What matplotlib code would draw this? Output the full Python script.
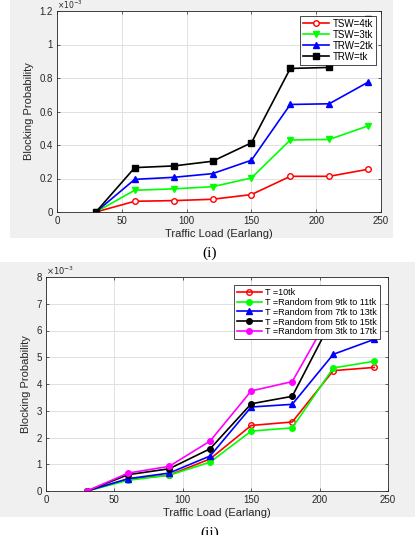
import matplotlib.pyplot as plt
from matplotlib.patches import Rectangle
from matplotlib.ticker import FuncFormatter

plt.rcParams['font.family'] = ['Liberation Sans', 'DejaVu Sans']

# traffic load (Earlang), same for both panels
load = [30, 60, 90, 120, 150, 180, 210, 240]

# panel (i) - blocking probability in units of 1e-3
tsw_4tk = [0, 0.064, 0.068, 0.076, 0.104, 0.213, 0.213, 0.255]
tsw_3tk = [0, 0.130, 0.138, 0.151, 0.203, 0.430, 0.433, 0.514]
trw_2tk = [0, 0.195, 0.207, 0.229, 0.309, 0.642, 0.646, 0.775]
trw_tk = [0, 0.265, 0.275, 0.303, 0.413, 0.857, 0.863, 1.15]
labels_i = ["TSW=4tk", "TSW=3tk", "TRW=2tk", "TRW=tk"]

# panel (ii) - blocking probability in units of 1e-3
t_10tk = [0, 0.44, 0.59, 1.20, 2.45, 2.58, 4.50, 4.62]
rand_9_11 = [0, 0.40, 0.59, 1.08, 2.24, 2.36, 4.60, 4.85]
rand_7_13 = [0, 0.46, 0.67, 1.31, 3.14, 3.24, 5.11, 5.67]
rand_5_15 = [0, 0.61, 0.83, 1.58, 3.26, 3.54, 6.50, 7.00]
rand_3_17 = [0, 0.67, 0.92, 1.87, 3.74, 4.09, 6.80, 7.30]
labels_ii = ["T =10tk", "T =Random from 9tk to 11tk", "T =Random from 7tk to 13tk",
             "T =Random from 5tk to 15tk", "T =Random from 3tk to 17tk"]

W, H = 419, 535
fig = plt.figure(figsize=(W / 100, H / 100), dpi=100)
fig.patch.set_facecolor('white')

# grey MATLAB-like figure backgrounds
fig.add_artist(Rectangle((10 / W, 1 - 238 / H), 383 / W, 238 / H, transform=fig.transFigure,
                         facecolor='#f0f0f0', edgecolor='none', zorder=0))
fig.add_artist(Rectangle((0, 1 - 517 / H), 415 / W, 255 / H, transform=fig.transFigure,
                         facecolor='#f0f0f0', edgecolor='none', zorder=0))

ax1 = fig.add_axes([57 / W, 1 - 212 / H, 324 / W, 201 / H])
ax2 = fig.add_axes([46 / W, 1 - 491 / H, 342 / W, 214 / H])


def style(ax, yticks, exp_fs=6):
    ax.set_facecolor('white')
    ax.set_xlim(0, 250)
    ax.set_ylim(0, yticks[-1])
    ax.set_xticks(range(0, 251, 50))
    ax.set_yticks(yticks)
    ax.yaxis.set_major_formatter(FuncFormatter(lambda v, p: f'{v:g}'))
    ax.grid(True, color='#dcdcdc', lw=0.6)
    ax.set_axisbelow(True)
    ax.tick_params(direction='in', top=True, right=True, length=2.5, width=0.5,
                   labelsize=7, colors='#262626', pad=3)
    for s in ax.spines.values():
        s.set_linewidth(0.6)
        s.set_color('#262626')
    ax.set_xlabel("Traffic Load (Earlang)", fontsize=8, color='#262626', labelpad=2)
    ax.set_ylabel("Blocking Probability", fontsize=8, color='#262626', labelpad=4)
    ax.text(0, 1.0, r'$\times10^{-3}$', transform=ax.transAxes, fontsize=exp_fs,
            color='#262626', ha='left', va='bottom')


# panel (i)
ax1.plot(load, tsw_4tk, color='#ff0000', marker='o', mfc='white', ms=4, lw=1.2, label=labels_i[0])
ax1.plot(load, tsw_3tk, color='#00ff00', marker='v', ms=4, lw=1.2, label=labels_i[1])
ax1.plot(load, trw_2tk, color='#0000ff', marker='^', ms=4, lw=1.2, label=labels_i[2])
ax1.plot(load, trw_tk, color='black', marker='s', ms=4, lw=1.2, label=labels_i[3])
style(ax1, [0, 0.2, 0.4, 0.6, 0.8, 1, 1.2], exp_fs=5.5)
leg1 = ax1.legend(loc='upper right', fontsize=7, fancybox=False, edgecolor='black', framealpha=1,
                  borderpad=0.3, labelspacing=0.1, handlelength=2.6, handletextpad=0.4,
                  borderaxespad=0.5)
leg1.get_frame().set_linewidth(0.5)

# panel (ii)
ax2.plot(load, t_10tk, color='#ff0000', marker='o', mfc='none', ms=4, lw=1.2, label=labels_ii[0])
ax2.plot(load, rand_9_11, color='#00ff00', marker='o', ms=4, lw=1.2, label=labels_ii[1])
ax2.plot(load, rand_7_13, color='#0000ff', marker='^', ms=4, lw=1.2, label=labels_ii[2])
ax2.plot(load, rand_5_15, color='black', marker='o', ms=4, lw=1.2, label=labels_ii[3])
ax2.plot(load, rand_3_17, color='#ff00ff', marker='o', ms=4, lw=1.2, label=labels_ii[4])
style(ax2, list(range(0, 9)))
leg2 = ax2.legend(loc='upper right', fontsize=6.5, fancybox=False, edgecolor='black', framealpha=1,
                  borderpad=0.3, labelspacing=0.1, handlelength=2.8, handletextpad=0.4,
                  borderaxespad=0.9)
leg2.get_frame().set_linewidth(0.5)

# captions
fig.text(210 / W, 1 - 253 / H, "(i)", family='Liberation Serif', fontsize=11, ha='center', va='center')
fig.text(210 / W, 1 - 533 / H, "(ii)", family='Liberation Serif', fontsize=11, ha='center', va='center')

fig.savefig('out.png', dpi=100)
